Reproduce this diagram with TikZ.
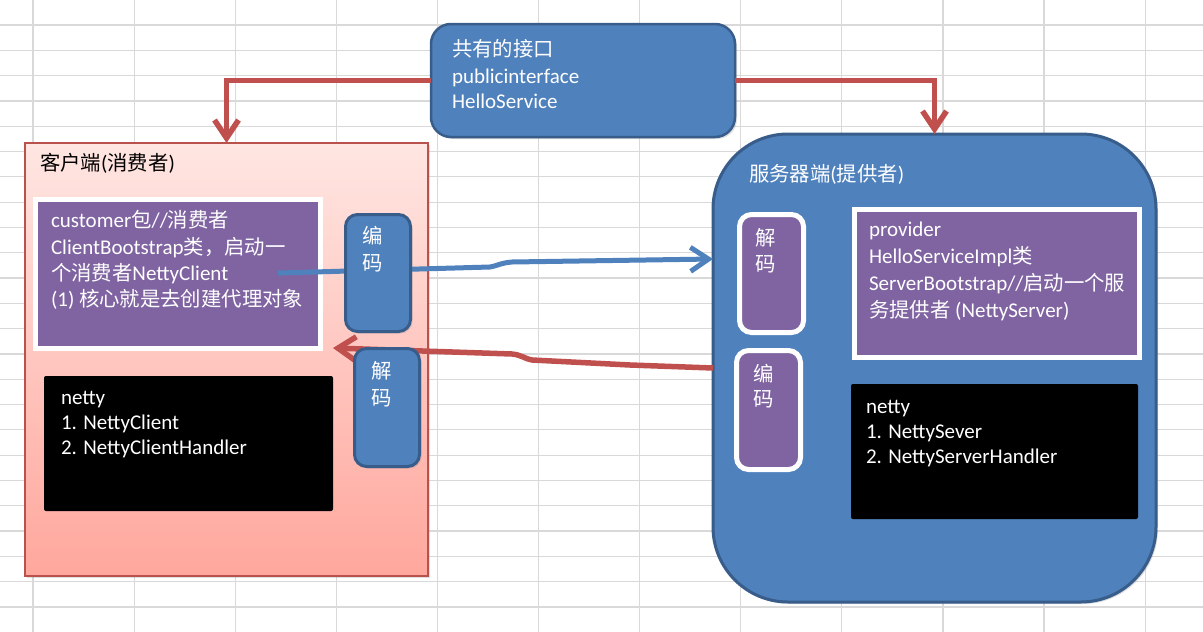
\documentclass[tikz,border=0pt]{standalone}
\usepackage{fontspec}
\setmainfont{Carlito}
\newfontfamily\zhfont{Noto Sans CJK SC}[Scale=0.97]
\newcommand\mycn[1]{{\zhfont #1}}
\usetikzlibrary{arrows.meta,shadows}
\definecolor{xblue}{HTML}{4F81BD}
\definecolor{xdblue}{HTML}{385D8A}
\definecolor{xpurple}{HTML}{8064A2}
\definecolor{xred}{HTML}{C0504D}
\definecolor{xredb}{HTML}{B9524C}
\definecolor{xpinkT}{HTML}{FFE6E2}
\definecolor{xpinkB}{HTML}{FFA79D}
\definecolor{xgrid}{HTML}{D9D9D9}
\begin{document}
\begin{tikzpicture}[x=1pt,y=-1pt,
  every node/.style={inner sep=0pt,outer sep=0pt},
  gridline/.style={draw=xgrid,line width=1.2pt},
  txt/.style={anchor=base west,text=white,font=\fontsize{21}{26}\selectfont},
  ctxt/.style={anchor=base,text=white,font=\fontsize{21}{26}\selectfont},
  softshadow/.style={drop shadow={opacity=0.25,shadow xshift=2pt,shadow yshift=-2pt}},
  bluebox/.style={draw=xdblue,fill=xblue,line width=3pt,rounded corners=12pt,softshadow},
  purplebox/.style={draw=white,fill=xpurple,line width=5pt,softshadow},
  blackbox/.style={fill=black,rounded corners=2pt},
  redarrow/.style={draw=xred,line width=5.5pt,-{Straight Barb[length=18pt,width=24pt]}},
  bluearrow/.style={draw=xblue,line width=5pt,-{Straight Barb[length=18pt,width=24pt]}}
]
\useasboundingbox (0,0) rectangle (1203,632);
\fill[white] (0,0) rectangle (1203,632);
% spreadsheet grid
\foreach \i in {0,...,11} \draw[gridline] ({33+101.1*\i},0) -- ({33+101.1*\i},632);
\foreach \j in {0,...,24} \draw[gridline] (0,{25+25.3*\j}) -- (1203,{25+25.3*\j});

% client container
\node[anchor=north west,minimum width=403pt,minimum height=433pt,draw=xredb,line width=1.5pt,
      top color=xpinkT,bottom color=xpinkB,softshadow] (client) at (25,143) {};
% server container
\node[anchor=north west,minimum width=443pt,minimum height=468pt,draw=xdblue,line width=3pt,
      fill=xblue,rounded corners=75pt,softshadow] (server) at (713,134) {};
% interface box
\node[anchor=north west,minimum width=304pt,minimum height=113pt,draw=xdblue,line width=2.5pt,
      fill=xblue,rounded corners=20pt,softshadow] (iface) at (431,24) {};

% elbow arrows from interface
\draw[redarrow] (iface.west) -| (client.north);
\draw[redarrow] (iface.east) -| (server.north);

% inner boxes
\node[purplebox,anchor=north west,minimum width=285pt,minimum height=149pt] (cust) at (35.5,199.5) {};
\node[blackbox,anchor=north west,minimum width=289pt,minimum height=135pt] (cnetty) at (44,376) {};
\node[purplebox,anchor=north west,minimum width=285pt,minimum height=148pt] (prov) at (854.5,209.5) {};
\node[blackbox,anchor=north west,minimum width=287pt,minimum height=135pt] (snetty) at (851,384) {};
\node[purplebox,rounded corners=12pt,anchor=north west,minimum width=64pt,minimum height=118pt] (sdec) at (739.5,214.5) {};
\node[purplebox,rounded corners=12pt,anchor=north west,minimum width=64pt,minimum height=119pt] (senc) at (736.5,350.5) {};

% data-flow arrows
\coordinate (bstart) at (278,273);
\coordinate (bend) at (713,259);
\coordinate (rend) at (333,348);
\draw[bluearrow] (bstart) -- (490,267) .. controls (497,266) and (500,263) .. (512,262) -- (bend);
\draw[redarrow] (server.west) -- (630,365) -- (532,360) .. controls (525,359) and (522,355) .. (512,354) -- (rend);

% client codec boxes
\node[bluebox,anchor=north west,minimum width=65pt,minimum height=117pt] (cenc) at (345.5,214.5) {};
\node[bluebox,anchor=north west,minimum width=65pt,minimum height=118pt] (cdec) at (354.5,348.5) {};

% texts: interface
\node[txt] (t1) at (452,56) {\mycn{共有的接口}};
\node[txt] (t2) at (452,83) {publicinterface};
\node[txt] (t3) at (452,108) {HelloService};
% client
\node[txt,text=black] (t4) at (40,170) {\mycn{客户端}(\mycn{消费者})};
\node[txt] (t5) at (51,227) {customer\mycn{包}//\mycn{消费者}};
\node[txt] (t6) at (51,254) {ClientBootstrap\mycn{类，启动一}};
\node[txt] (t7) at (51,280) {\mycn{个消费者}NettyClient};
\node[txt] (t8) at (51,306) {(1) \mycn{核心就是去创建代理对象}};
\node[txt] (t9) at (61,404) {netty};
\node[txt] (t10) at (61,429) {1. NettyClient};
\node[txt] (t11) at (61,454) {2. NettyClientHandler};
\node[ctxt] (t12) at (373,243) {\mycn{编}};
\node[ctxt] (t13) at (373,270) {\mycn{码}};
\node[ctxt] (t14) at (382,378) {\mycn{解}};
\node[ctxt] (t15) at (382,405) {\mycn{码}};
% server
\node[txt] (t16) at (749,181) {\mycn{服务器端}(\mycn{提供者})};
\node[ctxt] (t17) at (766,245) {\mycn{解}};
\node[ctxt] (t18) at (766,271) {\mycn{码}};
\node[ctxt] (t19) at (764,381) {\mycn{编}};
\node[ctxt] (t20) at (764,406) {\mycn{码}};
\node[txt] (t21) at (869,236) {provider};
\node[txt] (t22) at (869,263) {HelloServiceImpl\mycn{类}};
\node[txt] (t23) at (869,290) {ServerBootstrap//\mycn{启动一个服}};
\node[txt] (t24) at (869,317) {\mycn{务提供者} (NettyServer)};
\node[txt] (t25) at (866,413) {netty};
\node[txt] (t26) at (866,438) {1. NettySever};
\node[txt] (t27) at (866,463) {2. NettyServerHandler};
\end{tikzpicture}
\end{document}
